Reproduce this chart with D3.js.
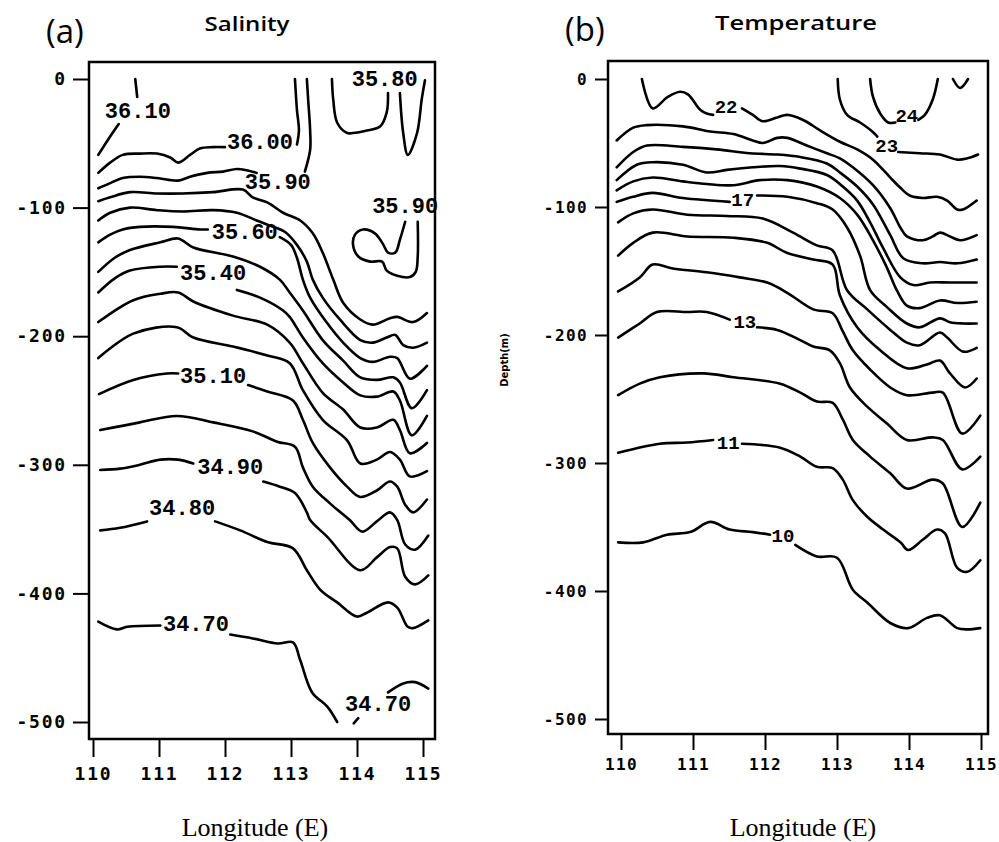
<!DOCTYPE html>
<html>
<head>
<meta charset="utf-8">
<script src="https://cdn.jsdelivr.net/npm/d3@7"></script>
<style>
  body { margin: 0; background: #fff; }
</style>
</head>
<body>
<svg id="chart" width="999" height="842"></svg>
<script>
// axis ticks
const lonTicks = [110, 111, 112, 113, 114, 115];
const depthTicks = [0, -100, -200, -300, -400, -500];

// salinity contours: each is a list of pieces (broken where a label sits), points are [lon, depth]
const sal_36_10 = [[[110.64,0],[110.67,-14]], [[110.39,-35],[110.23,-47],[110.08,-59]]];
const sal_36_00 = [[[110.08,-73],[110.26,-65],[110.45,-59],[110.71,-58],[110.97,-58],[111.17,-61],[111.29,-65],[111.47,-59],[111.62,-54],[111.82,-53],[112.0,-53]],
                   [[113.09,-51],[113.12,-40],[113.09,-24],[113.06,0]]];
const sal_35_90 = [[[110.08,-85],[110.26,-81],[110.45,-77],[110.71,-76],[110.97,-77],[111.29,-79],[111.47,-76],[111.73,-73],[111.97,-72],[112.18,-70],[112.33,-71],[112.48,-73]],
                   [[113.21,-72],[113.29,-55],[113.29,-40],[113.26,-16],[113.24,0]],
                   [[114.73,-111],[114.65,-125],[114.58,-135],[114.47,-135],[114.39,-128],[114.27,-120],[114.09,-117],[113.97,-121],[113.94,-129],[114.02,-138],[114.2,-142],[114.38,-142],[114.45,-149],[114.61,-153],[114.8,-154],[114.89,-150],[114.92,-138],[114.92,-111]]];
const sal_35_80 = [[[110.08,-95],[110.26,-92],[110.56,-88],[110.97,-89],[111.36,-89],[111.82,-88],[112.27,-86],[112.42,-92],[112.64,-96],[112.88,-104],[113.14,-110],[113.33,-120],[113.48,-135],[113.64,-156],[113.79,-174],[114.05,-187],[114.24,-191],[114.5,-186],[114.61,-185],[114.85,-189],[115.06,-182]],
                   [[113.62,0],[113.64,-16],[113.7,-34],[113.85,-42],[113.94,-42],[114.15,-40],[114.35,-37],[114.45,-26],[114.47,-11]],
                   [[114.65,-11],[114.7,-42],[114.77,-59],[114.91,-42],[114.98,-16],[115.03,-1]]];
const sal_35_70 = [[[110.08,-110],[110.26,-104],[110.56,-100],[110.97,-102],[111.36,-103],[111.82,-102],[112.18,-104],[112.48,-110],[112.68,-114],[112.91,-119],[113.09,-129],[113.24,-142],[113.33,-156],[113.48,-170],[113.74,-187],[114.05,-203],[114.24,-205],[114.45,-201],[114.58,-199],[114.7,-207],[114.85,-209],[115.06,-205]]];
const sal_35_60 = [[[110.08,-127],[110.26,-121],[110.45,-117],[110.71,-115],[111.21,-115],[111.62,-117],[111.74,-117]],
                   [[112.83,-123],[113.0,-129],[113.09,-139],[113.18,-156],[113.29,-170],[113.55,-190],[113.79,-205],[114.05,-217],[114.24,-220],[114.5,-216],[114.61,-217],[114.8,-233],[115.06,-223]]];
const sal_35_50 = [[[110.08,-150],[110.33,-139],[110.56,-133],[111.02,-127],[111.29,-124],[111.52,-131],[112.12,-138],[112.53,-146],[112.83,-156],[112.98,-166],[113.18,-180],[113.48,-203],[113.79,-219],[114.05,-232],[114.3,-234],[114.55,-232],[114.65,-236],[114.83,-256],[115.06,-242]]];
const sal_35_40 = [[[110.08,-166],[110.33,-155],[110.56,-149],[111.02,-146],[111.27,-146]],
                   [[112.18,-164],[112.53,-170],[112.88,-180],[112.98,-185],[113.18,-201],[113.48,-221],[113.79,-236],[114.05,-246],[114.3,-247],[114.55,-243],[114.65,-250],[114.83,-277],[115.06,-262]]];
const sal_35_30 = [[[110.08,-189],[110.61,-172],[111.02,-167],[111.29,-166],[111.52,-173],[112.12,-184],[112.64,-191],[112.98,-205],[113.18,-221],[113.48,-244],[113.79,-257],[114.05,-271],[114.3,-271],[114.55,-265],[114.65,-273],[114.8,-291],[115.06,-283]]];
const sal_35_20 = [[[110.08,-217],[110.61,-198],[111.27,-193],[111.52,-201],[112.12,-208],[112.64,-215],[112.98,-221],[113.18,-242],[113.48,-265],[113.85,-281],[114.05,-299],[114.3,-296],[114.5,-290],[114.65,-296],[114.8,-309],[115.06,-305]]];
const sal_35_10 = [[[110.09,-245],[110.61,-234],[111.12,-229],[111.29,-229]],
                   [[112.35,-238],[112.64,-243],[113.03,-250],[113.18,-265],[113.33,-283],[113.59,-302],[113.85,-317],[114.05,-325],[114.3,-320],[114.5,-313],[114.61,-317],[114.73,-331],[114.85,-337],[115.06,-327]]];
const sal_35_00 = [[[110.11,-273],[110.71,-267],[111.27,-262],[111.82,-267],[112.42,-274],[112.79,-282],[113.06,-286],[113.18,-302],[113.33,-317],[113.59,-330],[113.89,-343],[114.08,-352],[114.3,-344],[114.5,-337],[114.61,-343],[114.73,-362],[114.88,-366],[115.08,-355]]];
const sal_34_90 = [[[110.11,-304],[110.41,-303],[110.71,-300],[111.02,-296],[111.29,-296],[111.52,-299]],
                   [[112.58,-313],[112.83,-317],[113.06,-322],[113.24,-337],[113.29,-343],[113.55,-356],[114.05,-382],[114.3,-372],[114.5,-364],[114.61,-365],[114.73,-387],[114.88,-393],[115.08,-386]]];
const sal_34_80 = [[[110.11,-351],[110.41,-349],[110.82,-344]],
                   [[111.85,-344],[112.23,-351],[112.64,-360],[113.03,-365],[113.24,-382],[113.44,-397],[113.7,-407],[114.0,-418],[114.15,-415],[114.47,-407],[114.61,-411],[114.77,-426],[114.85,-427],[115.08,-421]]];
const sal_34_70 = [[[110.08,-422],[110.36,-428],[110.52,-426],[111.02,-425]],
                   [[112.08,-432],[112.42,-435],[112.8,-439],[113.03,-438],[113.14,-452],[113.32,-477],[113.55,-488],[113.7,-500]],
                   [[113.95,-501],[114.02,-497]],
                   [[114.47,-477],[114.7,-470],[114.88,-469],[115.08,-474]]];

const salinityContours = [sal_36_10, sal_36_00, sal_35_90, sal_35_80, sal_35_70, sal_35_60, sal_35_50,
  sal_35_40, sal_35_30, sal_35_20, sal_35_10, sal_35_00, sal_34_90, sal_34_80, sal_34_70];

const salinityLabels = [["36.10",110.68,-26], ["36.00",112.53,-50], ["35.90",112.8,-81], ["35.80",114.42,-1],
  ["35.90",114.73,-100], ["35.60",112.3,-120], ["35.40",111.82,-152], ["35.10",111.82,-232],
  ["34.90",112.08,-303], ["34.80",111.35,-335], ["34.70",111.56,-425], ["34.70",114.32,-487]];

// temperature contours
const tmp_24 = [[[113.46,0],[113.5,-14],[113.6,-27],[113.71,-34],[113.81,-34]],
                [[114.13,-32],[114.22,-28],[114.33,-16],[114.4,0]],
                [[114.61,0],[114.71,-7],[114.82,0]]];
const tmp_23 = [[[113.01,0],[113.04,-16],[113.14,-28],[113.32,-34],[113.49,-41],[113.56,-45]],
                [[113.85,-57],[114.15,-58],[114.43,-59],[114.67,-63],[114.81,-62],[114.96,-59]]];
const tmp_22 = [[[110.29,0],[110.44,-23],[110.65,-14],[110.82,-10],[110.93,-12],[111.1,-24],[111.19,-27],[111.28,-28]],
                [[111.68,-23],[111.83,-28],[111.97,-33],[112.17,-30],[112.31,-28],[112.53,-32],[112.76,-40],[113.04,-49],[113.28,-55],[113.5,-63],[113.74,-77],[113.88,-85],[114.01,-91],[114.19,-93],[114.39,-92],[114.53,-95],[114.67,-102],[114.75,-102],[114.94,-95]]];
const tmp_21 = [[[109.94,-48],[110.17,-38],[110.36,-36],[110.86,-37],[111.24,-41],[111.56,-43],[111.83,-48],[111.97,-50],[112.17,-46],[112.31,-46],[112.58,-52],[112.86,-58],[113.04,-62],[113.22,-69],[113.5,-83],[113.74,-101],[113.88,-116],[113.97,-123],[114.19,-126],[114.33,-123],[114.43,-120],[114.57,-123],[114.71,-126],[114.94,-122]]];
const tmp_20 = [[[109.94,-69],[110.17,-57],[110.36,-52],[110.86,-53],[111.33,-55],[111.79,-58],[112.17,-59],[112.49,-61],[112.86,-66],[113.04,-73],[113.28,-84],[113.5,-98],[113.74,-122],[113.92,-140],[114.19,-144],[114.43,-143],[114.67,-144],[114.94,-141]]];
const tmp_19 = [[[109.94,-79],[110.22,-67],[110.44,-65],[110.86,-67],[111.19,-73],[111.47,-71],[111.83,-69],[112.21,-68],[112.49,-70],[112.86,-75],[113.08,-84],[113.28,-95],[113.46,-112],[113.64,-132],[113.88,-155],[114.06,-161],[114.29,-159],[114.57,-159],[114.94,-159]]];
const tmp_18 = [[[109.94,-87],[110.17,-80],[110.44,-77],[110.86,-80],[111.19,-82],[111.56,-83],[111.93,-79],[112.31,-79],[112.72,-84],[113.04,-93],[113.28,-106],[113.5,-126],[113.69,-147],[113.83,-165],[113.97,-177],[114.15,-179],[114.43,-173],[114.67,-175],[114.94,-174]]];
const tmp_17 = [[[109.94,-96],[110.17,-92],[110.44,-89],[110.86,-93],[111.51,-96]],
                [[111.89,-91],[112.31,-92],[112.72,-97],[112.94,-102],[113.14,-116],[113.32,-138],[113.46,-165],[113.69,-178],[113.97,-191],[114.15,-194],[114.43,-187],[114.57,-190],[114.75,-191],[114.94,-191]]];
const tmp_16 = [[[109.96,-112],[110.17,-105],[110.44,-102],[110.92,-106],[111.47,-107],[111.97,-109],[112.39,-120],[112.72,-130],[112.94,-134],[113.14,-165],[113.42,-180],[113.74,-196],[113.97,-206],[114.15,-208],[114.43,-198],[114.53,-202],[114.75,-213],[114.94,-210]]];
const tmp_15 = [[[109.96,-138],[110.17,-128],[110.44,-120],[110.92,-123],[111.56,-124],[112.03,-128],[112.31,-136],[112.67,-141],[112.94,-145],[113.04,-169],[113.28,-194],[113.6,-212],[113.97,-226],[114.25,-223],[114.43,-220],[114.57,-230],[114.78,-241],[114.94,-234]]];
const tmp_14 = [[[109.96,-166],[110.26,-155],[110.44,-145],[110.72,-148],[111.19,-151],[111.65,-155],[112.03,-159],[112.31,-167],[112.67,-180],[112.94,-183],[113.07,-196],[113.22,-212],[113.46,-227],[113.74,-241],[113.97,-247],[114.33,-245],[114.47,-245],[114.74,-277],[114.99,-263]]];
const tmp_13 = [[[109.96,-202],[110.26,-191],[110.5,-182],[110.92,-182],[111.19,-182],[111.51,-188]],
                [[111.89,-194],[112.17,-196],[112.49,-204],[112.67,-209],[112.9,-212],[113.04,-222],[113.18,-241],[113.42,-256],[113.69,-269],[113.97,-282],[114.33,-280],[114.47,-282],[114.74,-305],[114.99,-295]]];
const tmp_12 = [[[109.96,-247],[110.26,-238],[110.54,-233],[111.14,-230],[111.56,-233],[112.21,-238],[112.49,-245],[112.72,-252],[112.94,-253],[113.08,-266],[113.22,-282],[113.46,-295],[113.74,-308],[113.97,-320],[114.33,-313],[114.47,-316],[114.74,-350],[114.99,-331]]];
const tmp_11 = [[[109.96,-292],[110.54,-285],[110.92,-284],[111.28,-282]],
                [[111.68,-285],[112.21,-288],[112.49,-295],[112.72,-303],[112.94,-304],[113.08,-313],[113.22,-329],[113.42,-342],[113.64,-352],[113.88,-362],[113.99,-368],[114.19,-360],[114.39,-352],[114.5,-355],[114.67,-382],[114.81,-385],[114.99,-376]]];
const tmp_10 = [[[109.96,-362],[110.31,-362],[110.64,-356],[110.96,-354],[111.24,-346],[111.51,-352],[111.83,-354],[112.07,-356]],
                [[112.42,-364],[112.72,-373],[113.0,-374],[113.22,-399],[113.42,-409],[113.74,-425],[113.99,-429],[114.25,-421],[114.43,-419],[114.67,-429],[114.81,-430],[114.99,-429]]];

const temperatureContours = [tmp_24, tmp_23, tmp_22, tmp_21, tmp_20, tmp_19, tmp_18, tmp_17,
  tmp_16, tmp_15, tmp_14, tmp_13, tmp_12, tmp_11, tmp_10];

const temperatureLabels = [["24",113.97,-30], ["23",113.69,-53], ["22",111.46,-23], ["17",111.69,-95],
  ["13",111.72,-191], ["11",111.49,-285], ["10",112.25,-358]];


const svg = d3.select("#chart");

function drawPanel(p) {
  const x = d3.scaleLinear().domain([110, 115]).range(p.xRange);
  const y = d3.scaleLinear().domain([0, -500]).range(p.yRange);
  const g = svg.append("g");

  const line = d3.line()
    .x(d => x(d[0]))
    .y(d => y(d[1]))
    .curve(d3.curveCatmullRom.alpha(0.5));

  // contour lines
  p.contours.forEach(c => {
    c.forEach(piece => {
      g.append("path")
        .attr("d", line(piece))
        .attr("fill", "none")
        .attr("stroke", "#000")
        .attr("stroke-width", 2.6)
        .attr("stroke-linejoin", "round")
        .attr("stroke-linecap", "round");
    });
  });

  // contour labels
  g.selectAll(".clabel")
    .data(p.labels)
    .enter()
    .append("text")
    .attr("x", d => x(d[1]))
    .attr("y", d => y(d[2]))
    .attr("text-anchor", "middle")
    .attr("dominant-baseline", "central")
    .attr("font-family", "Liberation Mono, monospace")
    .attr("font-weight", "bold")
    .attr("font-size", p.labelSize)
    .text(d => d[0]);

  // frame
  const [fx0, fx1, fy0, fy1] = p.frame;
  g.append("rect")
    .attr("x", fx0).attr("y", fy0)
    .attr("width", fx1 - fx0).attr("height", fy1 - fy0)
    .attr("fill", "none")
    .attr("stroke", "#000")
    .attr("stroke-width", 2.5);

  // y axis
  const yAxis = d3.axisLeft(y)
    .tickValues(depthTicks)
    .tickSize(p.yTick)
    .tickPadding(p.yPad)
    .tickFormat(d => String(d));
  const ya = g.append("g")
    .attr("transform", `translate(${fx0},0)`)
    .call(yAxis);
  ya.select(".domain").remove();

  // x axis
  const xAxis = d3.axisBottom(x)
    .tickValues(lonTicks)
    .tickSize(p.xTick)
    .tickPadding(p.xPad)
    .tickFormat(d => String(d));
  const xa = g.append("g")
    .attr("transform", `translate(0,${fy1})`)
    .call(xAxis);
  xa.select(".domain").remove();

  [ya, xa].forEach(a => {
    a.attr("font-family", "DejaVu Sans Mono, monospace")
      .attr("font-weight", "bold")
      .attr("font-size", p.tickSize);
    a.selectAll("line").attr("stroke", "#000").attr("stroke-width", 2);
    a.selectAll("text").attr("fill", "#000").attr("letter-spacing", p.tickSpacing);
  });

  // panel letter and title
  svg.append("text")
    .attr("x", p.letterX).attr("y", p.letterY)
    .attr("font-family", "Open Sans, sans-serif")
    .attr("font-size", 33)
    .text(p.letter);
  svg.append("text")
    .attr("x", p.titleX).attr("y", p.titleY)
    .attr("text-anchor", "middle")
    .attr("font-family", "Open Sans, sans-serif")
    .attr("font-weight", 600)
    .attr("font-size", 20)
    .attr("textLength", p.titleLen)
    .attr("lengthAdjust", "spacingAndGlyphs")
    .text(p.title);

  // x label
  svg.append("text")
    .attr("x", p.xLabelX).attr("y", 836)
    .attr("text-anchor", "middle")
    .attr("font-family", "Liberation Serif, serif")
    .attr("font-size", 26)
    .text("Longitude (E)");
}

drawPanel({
  contours: salinityContours, labels: salinityLabels,
  xRange: [93, 423], yRange: [79, 722], frame: [89, 435, 62, 739],
  yTick: 16, yPad: 6, xTick: 18, xPad: 10, tickSize: 18, tickSpacing: 1.8, labelSize: 22,
  letter: "(a)", letterX: 46, letterY: 43,
  title: "Salinity", titleX: 247, titleY: 31, titleLen: 85,
  xLabelX: 255
});

drawPanel({
  contours: temperatureContours, labels: temperatureLabels,
  xRange: [621, 981], yRange: [79, 719], frame: [608, 988, 61, 734],
  yTick: 13, yPad: 7, xTick: 16, xPad: 9, tickSize: 16, tickSpacing: 1.4, labelSize: 19,
  letter: "(b)", letterX: 565, letterY: 41,
  title: "Temperature", titleX: 796, titleY: 30, titleLen: 162,
  xLabelX: 803
});

// shared y label between the panels
svg.append("text")
  .attr("transform", "translate(508,360) rotate(-90)")
  .attr("text-anchor", "middle")
  .attr("font-family", "DejaVu Sans, sans-serif")
  .attr("font-weight", "bold")
  .attr("font-size", 10)
  .text("Depth(m)");
</script>
</body>
</html>
